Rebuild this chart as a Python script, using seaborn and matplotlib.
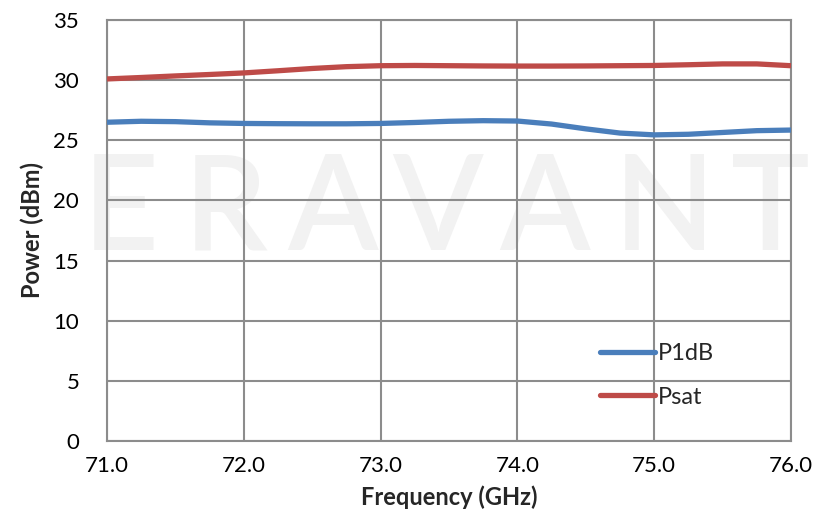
import matplotlib
matplotlib.use("Agg")
import matplotlib.pyplot as plt
from matplotlib.ticker import MultipleLocator, FormatStrFormatter
import seaborn as sns
import pandas as pd

freq = [71.0, 71.25, 71.5, 71.75, 72.0, 72.25, 72.5, 72.75, 73.0, 73.25, 73.5,
        73.75, 74.0, 74.25, 74.5, 74.75, 75.0, 75.25, 75.5, 75.75, 76.0]
p1db = [26.5, 26.58, 26.55, 26.45, 26.4, 26.38, 26.37, 26.37, 26.4, 26.48, 26.58,
        26.63, 26.6, 26.35, 25.95, 25.6, 25.45, 25.5, 25.65, 25.8, 25.85]
psat = [30.1, 30.22, 30.35, 30.47, 30.6, 30.78, 30.97, 31.12, 31.2, 31.22, 31.2,
        31.18, 31.17, 31.17, 31.18, 31.2, 31.22, 31.28, 31.35, 31.35, 31.2]
series_names = ["P1dB", "Psat"]
series_colors = ["#4a7ebb", "#be4b48"]
x_ticks = [71.0, 72.0, 73.0, 74.0, 75.0, 76.0]
y_ticks = [0, 5, 10, 15, 20, 25, 30, 35]
watermark = ["E", "R", "A", "V", "A", "N", "T"]

df = pd.concat([
    pd.DataFrame({"freq": freq, "power": p1db, "series": series_names[0]}),
    pd.DataFrame({"freq": freq, "power": psat, "series": series_names[1]}),
])

sns.set_style("white")
plt.rcParams["font.family"] = ["Lato", "DejaVu Sans"]

fig = plt.figure(figsize=(8.31, 5.12), dpi=100)
ax = fig.add_axes([107 / 831, 1 - 441 / 512, 684 / 831, 421 / 512])

# watermark
wm_x = [121, 226, 333, 438, 545, 664, 770]
for ch, xp in zip(watermark, wm_x):
    ax.text(xp / 831, 1 - 250 / 512, ch, transform=fig.transFigure,
            ha="center", va="baseline", fontsize=95, color="#f2f2f2",
            zorder=0.1, fontweight="semibold")

sns.lineplot(data=df, x="freq", y="power", hue="series", palette=series_colors,
             linewidth=3.8, ax=ax, zorder=3, solid_capstyle="butt")

ax.set_xlim(71.0, 76.0)
ax.set_ylim(0, 35)
ax.set_xticks(x_ticks)
ax.set_yticks(y_ticks)
ax.xaxis.set_major_formatter(FormatStrFormatter("%.1f"))
ax.xaxis.set_minor_locator(MultipleLocator(0.1))
ax.yaxis.set_minor_locator(MultipleLocator(1))
ax.set_axisbelow(True)
ax.grid(True, which="major", color="#8c8c8c", linewidth=1.5)

for s in ax.spines.values():
    s.set_color("#8c8c8c")
    s.set_linewidth(1.5)
    s.set_visible(True)

ax.tick_params(axis="both", which="both", direction="in", color="#8c8c8c",
               width=1.2)
ax.tick_params(axis="both", which="major", length=6, labelsize=16,
               labelcolor="black")
ax.tick_params(axis="x", which="major", pad=11)
ax.tick_params(axis="y", which="major", pad=20)
ax.tick_params(axis="both", which="minor", length=5)
ax.tick_params(top=False, right=False, which="both")

ax.set_xlabel("Frequency (GHz)", fontsize=17, fontweight="bold")
ax.set_ylabel("Power (dBm)", fontsize=17, fontweight="bold")
ax.xaxis.set_label_coords(0.5, (441 - 497) / 421)
ax.xaxis.label.set_va("center")
ax.yaxis.set_label_coords((32 - 107) / 684, 0.5)
ax.yaxis.label.set_va("center")

leg = ax.legend(loc="center left", bbox_to_anchor=((600 - 107) / 684, (441 - 375.5) / 421),
                frameon=False, fontsize=17, handlelength=2.35, handletextpad=0.12,
                labelspacing=0.95, borderpad=0, borderaxespad=0)
for line in leg.get_lines():
    line.set_linewidth(3.8)
    line.set_solid_capstyle("round")

fig.savefig("out.png", dpi=100)
